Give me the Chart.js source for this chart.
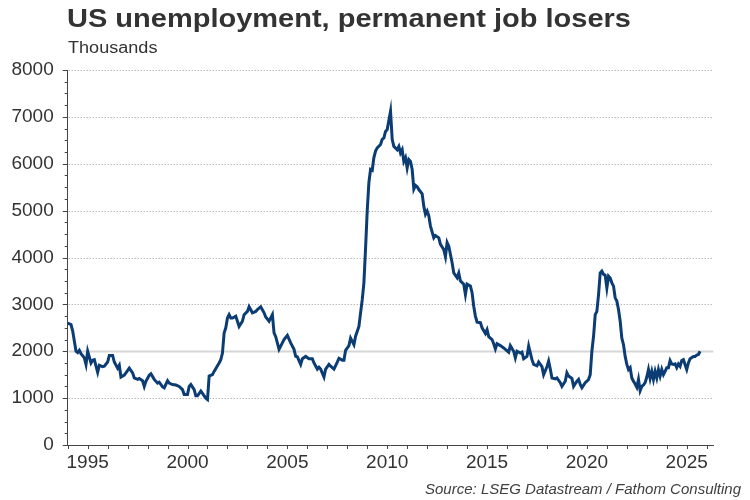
<!DOCTYPE html>
<html>
<head>
<meta charset="utf-8">
<title>US unemployment, permanent job losers</title>
<script src="https://cdn.jsdelivr.net/npm/chart.js@4.4.1/dist/chart.umd.min.js"></script>
<style>
  body { margin: 0; background: #fff; }
  #wrap { position: relative; width: 750px; height: 500px; }
</style>
</head>
<body>
<div id="wrap"><canvas id="chart" width="750" height="500"></canvas></div>
<script>
// Monthly readings, thousands of people
const months = [
  "1994-01","1994-03","1994-04","1994-06","1994-07","1994-08","1994-09","1994-11","1994-12",
  "1995-01","1995-03","1995-04","1995-05","1995-07","1995-08","1995-10","1995-11",
  "1996-01","1996-02","1996-04","1996-05","1996-07","1996-08","1996-09","1996-11","1996-12",
  "1997-02","1997-04","1997-05","1997-07","1997-08","1997-10","1997-11","1997-12",
  "1998-02","1998-03","1998-05","1998-07","1998-08","1998-10","1998-11",
  "1999-01","1999-02","1999-04","1999-06","1999-08","1999-10","1999-11",
  "2000-01","2000-02","2000-03","2000-05","2000-06","2000-07","2000-09","2000-10","2000-12",
  "2001-01","2001-02","2001-04","2001-05","2001-07","2001-08","2001-09","2001-10","2001-11","2001-12",
  "2002-01","2002-02","2002-03","2002-04","2002-06","2002-07","2002-08","2002-10","2002-11",
  "2003-01","2003-02","2003-04","2003-06","2003-07","2003-09","2003-11","2003-12",
  "2004-02","2004-03","2004-04","2004-05","2004-06","2004-08","2004-09","2004-11",
  "2005-01","2005-03","2005-05","2005-06","2005-07","2005-09","2005-10","2005-12",
  "2006-02","2006-04","2006-05","2006-07","2006-08","2006-09","2006-11","2006-12",
  "2007-02","2007-03","2007-05","2007-07","2007-08","2007-10","2007-11","2007-12",
  "2008-02","2008-03","2008-05","2008-06","2008-08","2008-09","2008-10","2008-11","2008-12",
  "2009-01","2009-02","2009-03","2009-04","2009-05","2009-06","2009-07","2009-09","2009-10","2009-11","2009-12",
  "2010-01","2010-03","2010-04","2010-05","2010-07","2010-08","2010-09","2010-10","2010-11","2010-12",
  "2011-01","2011-02","2011-03","2011-04","2011-05","2011-06","2011-07","2011-08","2011-10","2011-11","2011-12",
  "2012-01","2012-02","2012-03","2012-05","2012-06","2012-08","2012-09","2012-11","2012-12",
  "2013-01","2013-02","2013-04","2013-05","2013-07","2013-08","2013-09","2013-11","2013-12",
  "2014-01","2014-03","2014-04","2014-05","2014-06","2014-07","2014-09","2014-10","2014-12",
  "2015-01","2015-02","2015-04","2015-05","2015-06","2015-07","2015-09","2015-11","2015-12",
  "2016-02","2016-03","2016-05","2016-06","2016-07","2016-09","2016-10","2016-11",
  "2017-01","2017-02","2017-04","2017-05","2017-07","2017-08","2017-10","2017-11",
  "2018-01","2018-02","2018-03","2018-04","2018-06","2018-07","2018-09","2018-10","2018-12",
  "2019-01","2019-02","2019-04","2019-05","2019-07","2019-08","2019-09","2019-10","2019-12",
  "2020-01","2020-02","2020-03","2020-04","2020-05","2020-06","2020-07","2020-08","2020-09","2020-10","2020-11","2020-12",
  "2021-01","2021-02","2021-03","2021-04","2021-05","2021-06","2021-07","2021-08","2021-09","2021-10","2021-11","2021-12",
  "2022-01","2022-02","2022-03","2022-04","2022-05","2022-06","2022-07","2022-08","2022-09","2022-10","2022-11","2022-12",
  "2023-01","2023-02","2023-03","2023-04","2023-05","2023-06","2023-07","2023-08","2023-09","2023-10","2023-11","2023-12",
  "2024-01","2024-02","2024-03","2024-04","2024-05","2024-06","2024-07","2024-08","2024-09","2024-10","2024-11",
  "2025-01","2025-02","2025-03","2025-05","2025-06","2025-07","2025-08","2025-09"
];

const jobLosers = [
  2600,2570,2430,2000,1970,2020,1950,1860,1720,
  2000,1750,1810,1820,1550,1700,1670,1680,
  1770,1910,1910,1770,1640,1700,1450,1490,1540,
  1640,1540,1430,1400,1420,1370,1250,1360,
  1490,1520,1400,1320,1340,1240,1220,
  1370,1320,1290,1280,1250,1180,1080,
  1080,1250,1290,1180,1050,1050,1150,1100,1000,
  970,1470,1500,1570,1690,1750,1820,1960,2390,2500,
  2710,2780,2710,2710,2750,2640,2530,2640,2780,
  2850,2950,2820,2850,2890,2950,2820,2730,
  2640,2710,2780,2390,2310,2040,2110,2250,
  2340,2180,2040,1890,1880,1720,1840,1890,
  1840,1840,1750,1620,1660,1620,1450,1620,
  1720,1680,1620,1770,1850,1810,1810,2020,
  2120,2280,2140,2320,2530,2820,3100,3460,4200,
  5000,5600,5880,5860,6130,6270,6340,6410,6520,6550,6690,
  6730,7120,6520,6370,6300,6370,6230,6300,6050,6130,
  5910,6090,6050,5880,5460,5540,5510,5450,5360,5090,4920,
  4990,4890,4670,4420,4470,4420,4280,4170,4020,
  4320,4240,3890,3670,3570,3670,3500,3430,3210,
  3430,3390,3250,2960,2750,2620,2610,2500,2380,
  2460,2310,2250,2160,2050,2160,2120,2070,2040,
  1980,2120,2000,1860,2000,1960,1980,1840,
  1890,2110,1820,1720,1690,1770,1670,1500,
  1670,1790,1620,1430,1410,1430,1330,1250,1360,
  1540,1470,1420,1250,1360,1400,1290,1220,1330,
  1360,1400,1500,2000,2320,2780,2850,3210,3670,3710,3640,3620,
  3350,3600,3560,3460,3390,3140,3070,2890,2640,2280,2140,1890,
  1720,1610,1650,1430,1360,1300,1230,1400,1160,1250,1280,1330,
  1450,1610,1420,1570,1400,1570,1430,1610,1470,1610,1500,1570,
  1650,1650,1800,1730,1720,1730,1650,1730,1680,1800,1820,
  1610,1750,1840,1890,1890,1920,1930,2000
];

const yGridValues = [1000, 2000, 3000, 4000, 5000, 6000, 7000, 8000];
const xLabelYears = [1995, 2000, 2005, 2010, 2015, 2020, 2025];

const fontFamily = "'Liberation Sans', Arial, sans-serif";
const lineColor = "#0b3c73";

// turn "YYYY-MM" into a decimal year for the linear x scale
function toYear(m) {
    let parts = m.split("-");
    return parseInt(parts[0]) + (parseInt(parts[1]) - 1) / 12;
}

let points = months.map(function(m, i) {
    return { x: toYear(m), y: jobLosers[i] };
});

// the reference's heading text is a little wider than Arial, so stretch it
function drawWideText(ctx, text, x, y, stretch) {
    ctx.save();
    ctx.translate(x, y);
    ctx.scale(stretch, 1);
    ctx.fillText(text, 0, 0);
    ctx.restore();
}

// gridlines, tick marks and the text around the plot
const decorPlugin = {
    id: "decor",
    beforeDatasetsDraw(chart) {
        const ctx = chart.ctx;
        const area = chart.chartArea;
        const yScale = chart.scales.y;
        ctx.save();
        yGridValues.forEach(function(v) {
            let y = Math.round(yScale.getPixelForValue(v)) + 0.5;
            ctx.beginPath();
            if (v === 2000) {
                ctx.setLineDash([]);
                ctx.strokeStyle = "#d6d6d6";
                ctx.lineWidth = 2;
            } else {
                ctx.setLineDash([1, 2]);
                ctx.strokeStyle = "#9a9a9a";
                ctx.lineWidth = 1;
            }
            ctx.moveTo(area.left + 1, y);
            ctx.lineTo(area.right, y);
            ctx.stroke();
        });
        ctx.restore();
    },
    afterDraw(chart) {
        const ctx = chart.ctx;
        const area = chart.chartArea;
        const xScale = chart.scales.x;
        const yScale = chart.scales.y;
        ctx.save();
        ctx.strokeStyle = "#444";
        ctx.lineWidth = 1;
        ctx.setLineDash([]);

        // y ticks: long every 1000, short every 250
        for (let v = 0; v <= 8000; v += 250) {
            let y = Math.round(yScale.getPixelForValue(v)) + 0.5;
            let len = (v % 1000 === 0) ? 5 : 3;
            ctx.beginPath();
            ctx.moveTo(area.left - len, y);
            ctx.lineTo(area.left, y);
            ctx.stroke();
        }
        // x ticks every year
        for (let yr = 1994; yr <= 2026; yr++) {
            let x = Math.round(xScale.getPixelForValue(yr)) + 0.5;
            ctx.beginPath();
            ctx.moveTo(x, area.bottom);
            ctx.lineTo(x, area.bottom + 4);
            ctx.stroke();
        }

        // title, units and source
        ctx.fillStyle = "#333";
        ctx.textAlign = "left";
        ctx.textBaseline = "alphabetic";
        ctx.font = "bold 25px " + fontFamily;
        drawWideText(ctx, "US unemployment, permanent job losers", 67, 27, 1.16);
        ctx.font = "16px " + fontFamily;
        drawWideText(ctx, "Thousands", 68, 53, 1.13);
        ctx.fillStyle = "#404040";
        ctx.textAlign = "right";
        ctx.font = "italic 15px " + fontFamily;
        ctx.fillText("Source: LSEG Datastream / Fathom Consulting", 741, 494);
        ctx.restore();
    }
};

const ctx = document.getElementById("chart").getContext("2d");

new Chart(ctx, {
    type: "line",
    data: {
        datasets: [{
            label: "Permanent job losers",
            data: points,
            borderColor: lineColor,
            backgroundColor: lineColor,
            borderWidth: 3,
            pointRadius: 0,
            tension: 0,
            fill: false
        }]
    },
    options: {
        responsive: false,
        animation: false,
        devicePixelRatio: 1,
        layout: { padding: { top: 70, right: 36.7, bottom: 0, left: 0 } },
        plugins: {
            legend: { display: false },
            tooltip: { enabled: false }
        },
        scales: {
            x: {
                type: "linear",
                min: 1994,
                max: 2026.33,
                afterFit: function(scale) { scale.height = 55; },
                afterBuildTicks: function(scale) {
                    scale.ticks = xLabelYears.map(function(y) { return { value: y }; });
                },
                ticks: {
                    autoSkip: false,
                    maxRotation: 0,
                    padding: 6,
                    color: "#333",
                    font: { family: fontFamily, size: 19 },
                    callback: function(v) { return String(v); }
                },
                grid: { drawOnChartArea: false, drawTicks: false },
                border: { display: true, color: "#444", width: 1 }
            },
            y: {
                min: 0,
                max: 8000,
                afterFit: function(scale) { scale.width = 67.7; },
                afterBuildTicks: function(scale) {
                    scale.ticks = [0].concat(yGridValues).map(function(v) { return { value: v }; });
                },
                ticks: {
                    padding: 14,
                    color: "#333",
                    font: { family: fontFamily, size: 19 },
                    callback: function(v) { return String(v); }
                },
                grid: { drawOnChartArea: false, drawTicks: false },
                border: { display: true, color: "#444", width: 1 }
            }
        }
    },
    plugins: [decorPlugin]
});
</script>
</body>
</html>
